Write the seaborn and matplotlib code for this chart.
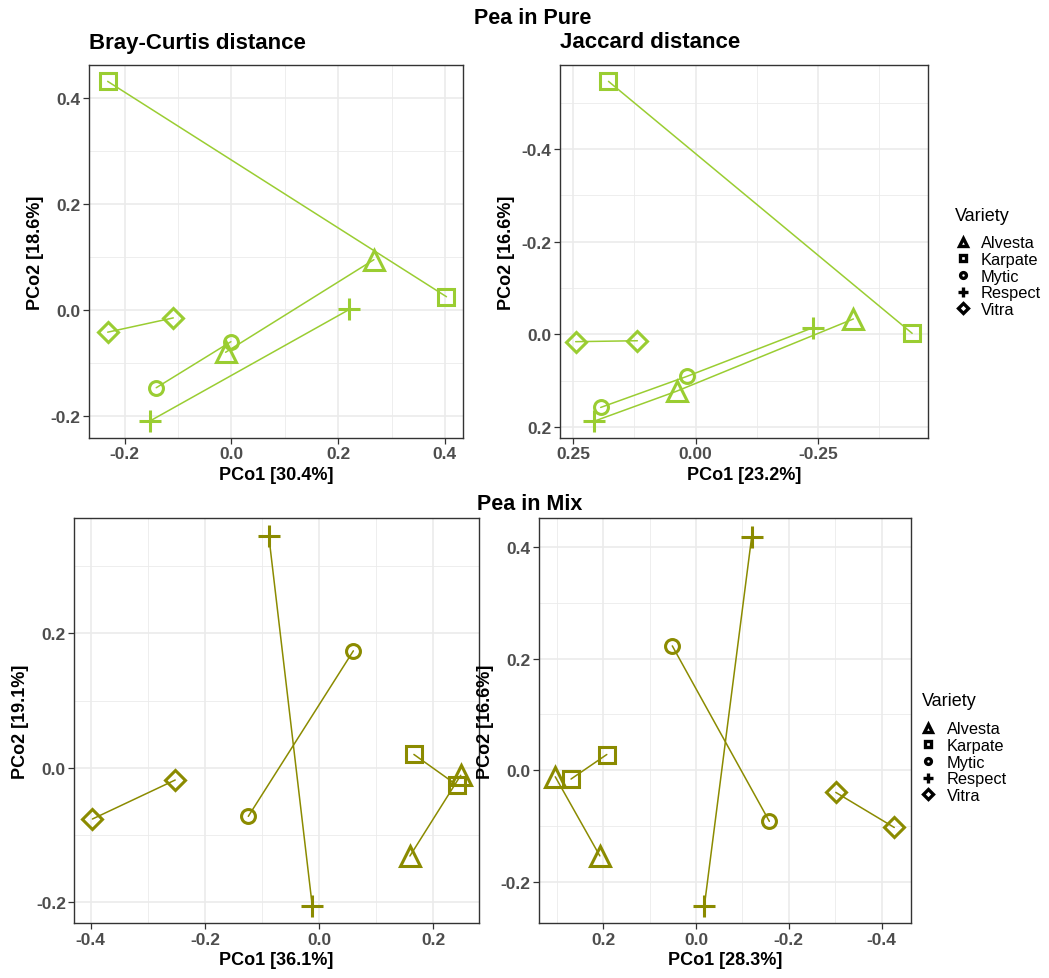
import numpy as np
import pandas as pd
import matplotlib
matplotlib.use("Agg")
import matplotlib.pyplot as plt
from matplotlib.lines import Line2D
from matplotlib.ticker import FixedLocator
import seaborn as sns

# ── Data ──────────────────────────────────────────────────────────────────────
VARIETIES = ["Alvesta", "Karpate", "Mytic", "Respect", "Vitra"]
point_variety = ["Alvesta", "Alvesta", "Karpate", "Karpate", "Mytic", "Mytic",
                 "Respect", "Respect", "Vitra", "Vitra"]

# Pea in Pure – Bray-Curtis
pure_bc_x = [0.267, -0.011, -0.232, 0.403, -0.001, -0.141, 0.221, -0.153, -0.232, -0.109]
pure_bc_y = [0.095, -0.080, 0.432, 0.025, -0.060, -0.147, 0.001, -0.210, -0.042, -0.015]
pure_bc_grp = ["Alvesta", "Alvesta", "Karpate", "Karpate", "Mytic", "Mytic",
               "Respect", "Respect", "Vitra", "Vitra"]

# Pea in Pure – Jaccard
pure_jac_x = [-0.322, 0.039, 0.178, -0.442, 0.018, 0.194, -0.239, 0.208, 0.245, 0.119]
pure_jac_y = [-0.033, 0.123, -0.546, -0.002, 0.091, 0.158, -0.014, 0.188, 0.016, 0.014]
pure_jac_grp = ["b", "b", "Karpate", "Karpate", "a", "a", "a", "b", "Vitra", "Vitra"]

# Pea in Mix – Bray-Curtis
mix_bc_x = [0.248, 0.159, 0.166, 0.242, 0.060, -0.124, -0.088, -0.012, -0.252, -0.397]
mix_bc_y = [-0.011, -0.131, 0.020, -0.026, 0.174, -0.072, 0.344, -0.205, -0.018, -0.076]

# Pea in Mix – Jaccard
mix_jac_x = [0.303, 0.207, 0.192, 0.269, 0.051, -0.158, -0.120, -0.018, -0.301, -0.427]
mix_jac_y = [-0.012, -0.154, 0.028, -0.016, 0.223, -0.092, 0.419, -0.244, -0.040, -0.103]

# ── Style ─────────────────────────────────────────────────────────────────────
GREEN = "#9ACD32"
OLIVE = "#8B8B00"
MARKERS = {"Alvesta": "^", "Karpate": "s", "Mytic": "o", "Respect": "+", "Vitra": "D"}
MSIZE = {"Alvesta": 14, "Karpate": 11.5, "Mytic": 10, "Respect": 16, "Vitra": 10.5}
LEG_MSIZE = {"Alvesta": 6, "Karpate": 5, "Mytic": 4.2, "Respect": 7, "Vitra": 5}

sns.set_theme(style="whitegrid")
plt.rcParams["font.family"] = ["Liberation Sans", "DejaVu Sans"]
plt.rcParams["axes.unicode_minus"] = False
plt.rcParams["text.color"] = "black"

W, H = 1049, 979
fig = plt.figure(figsize=(W / 100, H / 100), dpi=100)
fig.patch.set_facecolor("white")


def px_axes(l, t, r, b):
    return fig.add_axes([l / W, 1 - b / H, (r - l) / W, (b - t) / H])


def draw_panel(ax, x, y, grp, color, xlab, ylab, xlim, ylim, xt, xtl, yt, ytl, xmin, ymin):
    df = pd.DataFrame({"PCo1": x, "PCo2": y, "Variety": point_variety, "grp": grp})
    sns.lineplot(data=df, x="PCo1", y="PCo2", units="grp", estimator=None,
                 sort=True, color=color, lw=1.1, ax=ax, legend=False)
    for v in VARIETIES:
        sub = df[df["Variety"] == v]
        ax.plot(sub["PCo1"], sub["PCo2"], ls="none", marker=MARKERS[v],
                ms=MSIZE[v], mfc="none", mec=color, mew=2.2, zorder=3)
    ax.set_xlim(*xlim)
    ax.set_ylim(*ylim)
    ax.set_xticks(xt)
    ax.set_xticklabels(xtl)
    ax.set_yticks(yt)
    ax.set_yticklabels(ytl)
    ax.xaxis.set_minor_locator(FixedLocator(xmin))
    ax.yaxis.set_minor_locator(FixedLocator(ymin))
    ax.grid(which="major", color="#EBEBEB", lw=1.2)
    ax.grid(which="minor", color="#EBEBEB", lw=0.6)
    ax.set_facecolor("white")
    for sp in ax.spines.values():
        sp.set_edgecolor("#333333")
        sp.set_linewidth(1.0)
    ax.tick_params(which="major", length=4, width=0.9, color="#333333",
                   labelsize=12.5, labelcolor="#4D4D4D", pad=2, bottom=True, left=True)
    ax.tick_params(which="minor", length=0)
    for lab in ax.get_xticklabels() + ax.get_yticklabels():
        lab.set_fontweight("bold")
    ax.set_xlabel(xlab, fontsize=13, fontweight="bold", color="black", labelpad=3)
    ax.set_ylabel(ylab, fontsize=13, fontweight="bold", color="black", labelpad=5)


# ── Panels ────────────────────────────────────────────────────────────────────
ax1 = px_axes(89, 65.7, 463, 439)
draw_panel(ax1, pure_bc_x, pure_bc_y, pure_bc_grp, GREEN,
           "PCo1 [30.4%]", "PCo2 [18.6%]", (-0.267, 0.434), (-0.242, 0.4635),
           [-0.2, 0.0, 0.2, 0.4], ["-0.2", "0.0", "0.2", "0.4"],
           [-0.2, 0.0, 0.2, 0.4], ["-0.2", "0.0", "0.2", "0.4"],
           [-0.1, 0.1, 0.3], [-0.1, 0.1, 0.3])

ax2 = px_axes(560, 65.7, 928.3, 439)
draw_panel(ax2, pure_jac_x, pure_jac_y, pure_jac_grp, GREEN,
           "PCo1 [23.2%]", "PCo2 [16.6%]", (0.277, -0.475), (0.224, -0.582),
           [0.25, 0.0, -0.25], ["0.25", "0.00", "-0.25"],
           [-0.4, -0.2, 0.0, 0.2], ["-0.4", "-0.2", "0.0", "0.2"],
           [0.125, -0.125, -0.375], [-0.5, -0.3, -0.1, 0.1])

ax3 = px_axes(74.3, 519.3, 479, 924.3)
draw_panel(ax3, mix_bc_x, mix_bc_y, point_variety, OLIVE,
           "PCo1 [36.1%]", "PCo2 [19.1%]", (-0.4287, 0.280), (-0.231, 0.371),
           [-0.4, -0.2, 0.0, 0.2], ["-0.4", "-0.2", "0.0", "0.2"],
           [-0.2, 0.0, 0.2], ["-0.2", "0.0", "0.2"],
           [-0.3, -0.1, 0.1], [-0.1, 0.1, 0.3])

ax4 = px_axes(539, 519.3, 911, 924.3)
draw_panel(ax4, mix_jac_x, mix_jac_y, point_variety, OLIVE,
           "PCo1 [28.3%]", "PCo2 [16.6%]", (0.338, -0.463), (-0.275, 0.452),
           [0.2, 0.0, -0.2, -0.4], ["0.2", "0.0", "-0.2", "-0.4"],
           [-0.2, 0.0, 0.2, 0.4], ["-0.2", "0.0", "0.2", "0.4"],
           [0.3, 0.1, -0.1, -0.3], [-0.1, 0.1, 0.3])

# ── Titles ────────────────────────────────────────────────────────────────────
fig.text(533 / W, 1 - 19 / H, "Pea in Pure", ha="center", va="center",
         fontsize=15.5, fontweight="bold")
fig.text(530 / W, 1 - 505 / H, "Pea in Mix", ha="center", va="center",
         fontsize=15.5, fontweight="bold")
fig.text(89 / W, 1 - 43 / H, "Bray-Curtis distance", ha="left", va="center",
         fontsize=16, fontweight="bold")
fig.text(560 / W, 1 - 43 / H, "Jaccard distance", ha="left", va="center",
         fontsize=16, fontweight="bold")

# ── Legends ───────────────────────────────────────────────────────────────────
handles = [Line2D([], [], ls="none", marker=MARKERS[v], ms=LEG_MSIZE[v], mfc="none",
                  mec="black", mew=2.4) for v in VARIETIES]
for (tx, ty, lx, ly) in [(955, 216.7, 954.7, 236.5), (921.7, 701.7, 920.3, 722.5)]:
    fig.text(tx / W, 1 - ty / H, "Variety", ha="left", va="center", fontsize=13)
    fig.legend(handles, VARIETIES, loc="upper left",
               bbox_to_anchor=(lx / W, 1 - ly / H), frameon=False,
               fontsize=11.8, handlelength=1.0, labelcolor="black",
               handletextpad=0.6, labelspacing=0.1, borderpad=0,
               borderaxespad=0)

fig.savefig("out.png", dpi=100, facecolor="white")
